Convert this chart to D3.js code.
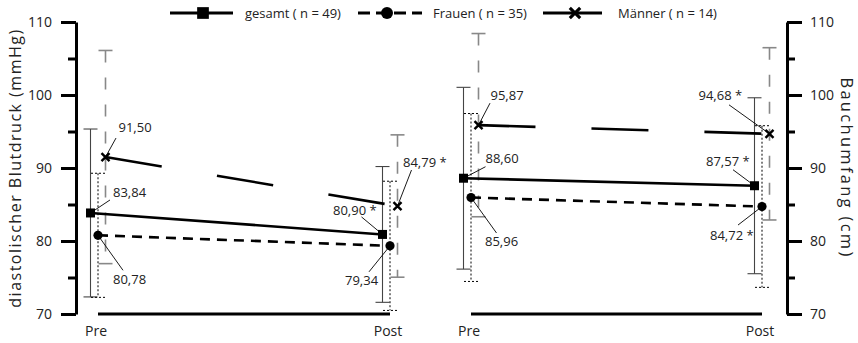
<!DOCTYPE html>
<html>
<head>
<meta charset="utf-8">
<script src="https://cdn.jsdelivr.net/npm/d3@7"></script>
<style>
  html, body { margin: 0; padding: 0; background: #fff; }
  svg { display: block; font-family: "Open Sans", "Noto Sans", sans-serif; }
</style>
</head>
<body>
<svg id="chart" width="858" height="343"></svg>
<script>
// ---- data ----
const categories = ["Pre", "Post"];
const groups = ["gesamt", "Frauen", "Männer"];
const groupN = [49, 35, 14];
const yTicks = [70, 80, 90, 100, 110];
const yMinorTicks = [75, 85, 95, 105];

// diastolischer Blutdruck (mmHg): mean, SD, significance per time point
const bpGesamtMean = [83.84, 80.90];
const bpGesamtSD = [11.5, 9.3];
const bpGesamtSig = [false, true];
const bpFrauenMean = [80.78, 79.34];
const bpFrauenSD = [8.5, 8.85];
const bpFrauenSig = [false, false];
const bpMaennerMean = [91.50, 84.79];
const bpMaennerSD = [14.6, 9.75];
const bpMaennerSig = [false, true];

// Bauchumfang (cm)
const wcGesamtMean = [88.60, 87.57];
const wcGesamtSD = [12.45, 12.05];
const wcGesamtSig = [false, true];
const wcFrauenMean = [85.96, 84.72];
const wcFrauenSD = [11.5, 11.07];
const wcFrauenSig = [false, true];
const wcMaennerMean = [95.87, 94.68];
const wcMaennerSD = [12.55, 11.8];
const wcMaennerSig = [false, true];

// ---- layout ----
const svg = d3.select("#chart");
const y = d3.scaleLinear().domain([70, 110]).range([314, 22]);
const groupOffset = d3.scalePoint().domain(groups).range([-7.5, 7.5]);
const fmt = v => d3.format(".2f")(v).replace(".", ",");

const styles = {
  "gesamt": { line: null, bar: "#444", barDash: null, barW: 1.1 },
  "Frauen": { line: "10,7", bar: "#000", barDash: "2,2", barW: 1 },
  "Männer": { line: "57,56", bar: "#888", barDash: "12,15", barW: 1.6 }
};

// label placement: [text dx, text dy, leader start dx, leader start dy] relative to the marker
const labelPlacement = {
  left: {
    "gesamt": [[22.5, -16, 19.5, -13], [-49.5, -19, -21, -17.5]],
    "Frauen": [[15, 49, 25, 35], [-45, 39, -21, 26]],
    "Männer": [[13, -25, 10.5, -19], [5.5, -39, 14, -36]]
  },
  right: {
    "gesamt": [[22, -15, 22, -11.5], [-48.5, -20, -21.5, -16]],
    "Frauen": [[14, 48.5, 25.5, 35.5], [-52, 33.5, -24, 18.5]],
    "Männer": [[12, -25, 11.5, -22], [-71, -34, -40.5, -29]]
  }
};

const panels = [
  {
    key: "left",
    x: d3.scalePoint().domain(categories).range([98, 390]),
    series: [
      { group: "gesamt", mean: bpGesamtMean, sd: bpGesamtSD, sig: bpGesamtSig },
      { group: "Frauen", mean: bpFrauenMean, sd: bpFrauenSD, sig: bpFrauenSig },
      { group: "Männer", mean: bpMaennerMean, sd: bpMaennerSD, sig: bpMaennerSig }
    ]
  },
  {
    key: "right",
    x: d3.scalePoint().domain(categories).range([471, 762]),
    series: [
      { group: "gesamt", mean: wcGesamtMean, sd: wcGesamtSD, sig: wcGesamtSig },
      { group: "Frauen", mean: wcFrauenMean, sd: wcFrauenSD, sig: wcFrauenSig },
      { group: "Männer", mean: wcMaennerMean, sd: wcMaennerSD, sig: wcMaennerSig }
    ]
  }
];

// marker drawing helper
function drawMarker(g, group, cx, cy, scale = 1) {
  if (group === "gesamt") {
    const s = 9 * scale;
    g.append("rect").attr("x", cx - s / 2).attr("y", cy - s / 2)
      .attr("width", s).attr("height", s).attr("fill", "#000");
  } else if (group === "Frauen") {
    g.append("circle").attr("cx", cx).attr("cy", cy).attr("r", 4.6 * scale).attr("fill", "#000");
  } else {
    const h = 4 * scale;
    g.append("path")
      .attr("d", `M${cx - h},${cy - h}L${cx + h},${cy + h}M${cx - h},${cy + h}L${cx + h},${cy - h}`)
      .attr("stroke", "#000").attr("stroke-width", 2.4 * scale).attr("fill", "none");
  }
}

// ---- axes ----
const leftAxisX = 76, rightAxisX = 787;
function styleAxis(g) {
  g.select(".domain").attr("stroke", "#000").attr("stroke-width", 3);
  g.selectAll(".tick line").attr("stroke", "#000").attr("stroke-width", 3);
  g.selectAll(".tick text").attr("fill", "#222").style("font-size", "14px")
    .style("font-family", "'Open Sans', 'Noto Sans', sans-serif");
}
const axL = svg.append("g").attr("transform", `translate(${leftAxisX},0)`)
  .call(d3.axisLeft(y).tickValues(yTicks).tickSize(15).tickSizeOuter(0).tickPadding(9).tickFormat(d3.format("d")));
styleAxis(axL);
const axLm = svg.append("g").attr("transform", `translate(${leftAxisX},0)`)
  .call(d3.axisLeft(y).tickValues(yMinorTicks).tickSize(8).tickSizeOuter(0).tickFormat(""));
styleAxis(axLm);
axLm.select(".domain").remove();

const axR = svg.append("g").attr("transform", `translate(${rightAxisX},0)`)
  .call(d3.axisRight(y).tickValues(yTicks).tickSize(15).tickSizeOuter(0).tickPadding(8).tickFormat(d3.format("d")));
styleAxis(axR);
const axRm = svg.append("g").attr("transform", `translate(${rightAxisX},0)`)
  .call(d3.axisRight(y).tickValues(yMinorTicks).tickSize(8).tickSizeOuter(0).tickFormat(""));
styleAxis(axRm);
axRm.select(".domain").remove();

// axis titles
svg.append("text")
  .attr("transform", `translate(21,${(y(70) + y(110)) / 2}) rotate(-90)`)
  .attr("text-anchor", "middle").attr("fill", "#222")
  .style("font-size", "16px").style("letter-spacing", "1.5px")
  .text("diastolischer Blutdruck (mmHg)");
svg.append("text")
  .attr("transform", `translate(841,${(y(70) + y(110)) / 2}) rotate(90)`)
  .attr("text-anchor", "middle").attr("fill", "#222")
  .style("font-size", "16.5px").style("letter-spacing", "2.3px")
  .text("Bauchumfang (cm)");

// ---- panels ----
panels.forEach(panel => {
  const x = panel.x;
  const g = svg.append("g");
  const pos = (s, i) => x(categories[i]) + groupOffset(s.group);

  // baseline along the category axis
  g.append("line")
    .attr("x1", x(categories[0])).attr("x2", x(categories[categories.length - 1]))
    .attr("y1", y(70)).attr("y2", y(70))
    .attr("stroke", "#000").attr("stroke-width", 3);

  // category labels
  categories.forEach(c => {
    g.append("text").attr("x", x(c) - 2).attr("y", 336)
      .attr("text-anchor", "middle").attr("fill", "#222")
      .style("font-size", "14px").text(c);
  });

  // error bars (mean ± SD)
  panel.series.forEach(s => {
    const st = styles[s.group];
    categories.forEach((c, i) => {
      const cx = pos(s, i);
      const top = y(s.mean[i] + s.sd[i]);
      const bot = y(s.mean[i] - s.sd[i]);
      g.append("line").attr("x1", cx).attr("x2", cx).attr("y1", top).attr("y2", bot)
        .attr("stroke", st.bar).attr("stroke-width", st.barW)
        .attr("stroke-dasharray", st.barDash);
      [top, bot].forEach(yy => {
        g.append("line").attr("x1", cx - 7).attr("x2", cx + 7).attr("y1", yy).attr("y2", yy)
          .attr("stroke", st.bar).attr("stroke-width", st.barW)
          .attr("stroke-dasharray", s.group === "Frauen" ? st.barDash : null);
      });
    });
  });

  // mean lines
  panel.series.forEach(s => {
    const st = styles[s.group];
    const line = d3.line().x((d, i) => pos(s, i)).y(d => y(d));
    g.append("path").datum(s.mean).attr("d", line)
      .attr("fill", "none").attr("stroke", "#000").attr("stroke-width", 2.6)
      .attr("stroke-dasharray", st.line);
  });

  // markers
  panel.series.forEach(s => {
    categories.forEach((c, i) => drawMarker(g, s.group, pos(s, i), y(s.mean[i])));
  });

  // value labels with leader lines
  panel.series.forEach(s => {
    categories.forEach((c, i) => {
      const cx = pos(s, i), cy = y(s.mean[i]);
      const [tdx, tdy, ldx, ldy] = labelPlacement[panel.key][s.group][i];
      g.append("line")
        .attr("x1", cx + ldx).attr("y1", cy + ldy).attr("x2", cx).attr("y2", cy)
        .attr("stroke", "#000").attr("stroke-width", 0.9);
      g.append("text").attr("x", cx + tdx).attr("y", cy + tdy)
        .attr("fill", "#222").style("font-size", "13px")
        .text(fmt(s.mean[i]) + (s.sig[i] ? " *" : ""));
    });
  });
});

// ---- legend ----
const legendY = 13;
const legendItems = [
  { group: "gesamt", x1: 170, x2: 233, mx: 203, tx: 245 },
  { group: "Frauen", x1: 358, x2: 422, mx: 387, tx: 433 },
  { group: "Männer", x1: 543, x2: 602, mx: 575, tx: 618 }
];
const legend = svg.append("g");
legendItems.forEach((it, k) => {
  legend.append("line").attr("x1", it.x1).attr("x2", it.x2)
    .attr("y1", legendY).attr("y2", legendY)
    .attr("stroke", "#000").attr("stroke-width", 2.8)
    .attr("stroke-dasharray", it.group === "Frauen" ? "12,6" : null);
  drawMarker(legend, it.group, it.mx, legendY, 1.3);
  legend.append("text").attr("x", it.tx).attr("y", legendY + 5)
    .attr("fill", "#222").style("font-size", "13px")
    .text(`${groups[k]} ( n = ${groupN[k]})`);
});
</script>
</body>
</html>
